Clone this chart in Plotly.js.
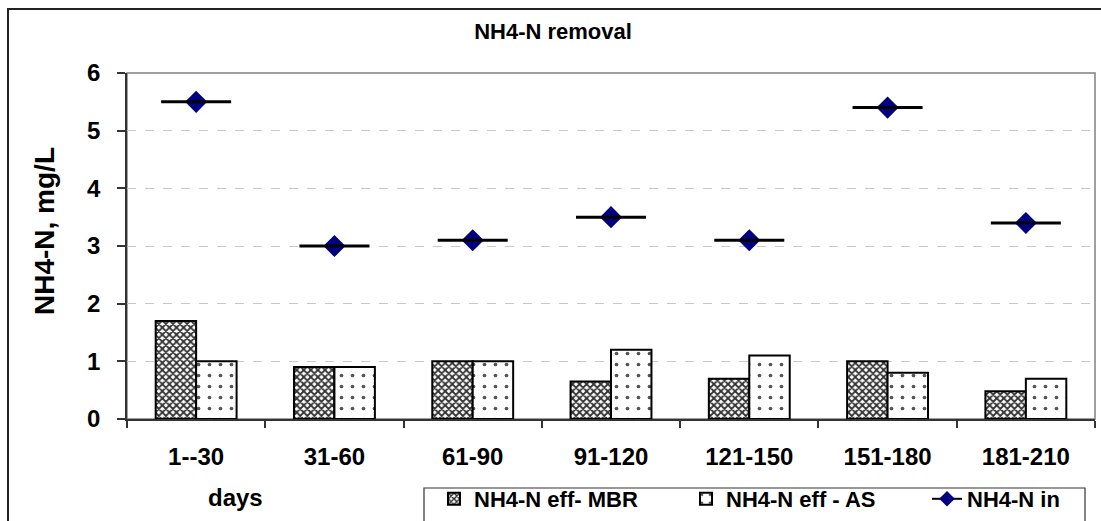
<!DOCTYPE html>
<html>
<head>
<meta charset="utf-8">
<script src="https://cdn.plot.ly/plotly-3.0.1.min.js"></script>
<style>html,body{margin:0;padding:0;background:#fff;}#chart{width:1101px;height:521px;}</style>
</head>
<body>
<div id="chart"></div>
<script>
const categories = ["1--30", "31-60", "61-90", "91-120", "121-150", "151-180", "181-210"];
const effMBR = [1.7, 0.9, 1.0, 0.65, 0.7, 1.0, 0.48];
const effAS = [1.0, 0.9, 1.0, 1.2, 1.1, 0.8, 0.7];
const nh4In = [5.5, 3.0, 3.1, 3.5, 3.1, 5.4, 3.4];
const yTicks = [0, 1, 2, 3, 4, 5, 6];

const FONT = "Liberation Sans, Arial, sans-serif";

const L = 127, R = 1095, T = 73, B = 419, W = 1101, H = 521;
const px = v => (v - L) / (R - L);
const py = v => (B - v) / (B - T);

const traces = [
  {
    type: "bar", name: "NH4-N eff- MBR", x: categories, y: effMBR, legend: "legend",
    marker: {color: "white", line: {color: "black", width: 2},
      pattern: {shape: "x", fgcolor: "#333333", bgcolor: "white", size: 5, solidity: 0.6}},
    hoverinfo: "y"
  },
  {
    type: "bar", name: "NH4-N eff - AS", x: categories, y: effAS, legend: "legend2",
    marker: {color: "white", line: {color: "black", width: 2},
      pattern: {shape: ".", fgcolor: "#555555", bgcolor: "white", size: 11, solidity: 0.09}},
    hoverinfo: "y"
  },
  {
    type: "scatter", mode: "markers", x: categories, y: nh4In, showlegend: false,
    marker: {symbol: "diamond", size: 17, color: "#000080", line: {width: 0}},
    cliponaxis: false
  },
  {
    type: "scatter", mode: "markers", x: categories, y: nh4In, showlegend: false,
    marker: {symbol: "line-ew", size: 50, color: "black", line: {color: "black", width: 3}},
    cliponaxis: false, hoverinfo: "skip"
  },
  {
    type: "scatter", mode: "lines+markers", name: "NH4-N in", x: [null], y: [null], legend: "legend3",
    line: {color: "black", width: 2},
    marker: {symbol: "diamond", size: 12, color: "#000080"}
  }
];

const legFont = {family: FONT, size: 22, color: "black", weight: "bold"};
const legBase = {orientation: "h", xanchor: "left", yanchor: "middle", y: py(499),
  bgcolor: "rgba(0,0,0,0)", borderwidth: 0, font: legFont, itemclick: false, itemdoubleclick: false};

const layout = {
  width: W, height: H,
  margin: {l: L, r: W - R, t: T, b: H - B, pad: 0, autoexpand: false},
  paper_bgcolor: "white", plot_bgcolor: "white",
  font: {family: FONT, size: 16, color: "black", weight: "bold"},
  title: {text: "<b>NH4-N removal</b>", x: 553 / W, xref: "container", xanchor: "center",
    y: 1 - 31 / H, yref: "container", yanchor: "middle",
    font: {family: FONT, size: 22, color: "black"}},
  barmode: "group", bargap: 0.415, bargroupgap: 0,
  showlegend: true,
  legend: Object.assign({}, legBase, {x: px(434)}),
  legend2: Object.assign({}, legBase, {x: px(686)}),
  legend3: Object.assign({}, legBase, {x: px(927)}),
  xaxis: {type: "category", range: [-0.5, categories.length - 0.5], autorange: false,
    showgrid: false, showline: true, linecolor: "#333", linewidth: 1.5,
    ticks: "outside", ticklen: 7, tickcolor: "#333", tickwidth: 1.5, tickson: "boundaries",
    ticklabelstandoff: 15,
    tickfont: {family: FONT, size: 24, color: "black", weight: "bold"}, fixedrange: true},
  yaxis: {range: [0, 6], autorange: false, tickvals: yTicks, ticktext: yTicks.map(String),
    showgrid: true, gridcolor: "#c8c8c8", griddash: "dash", gridwidth: 1,
    zeroline: false, showline: true, linecolor: "#333", linewidth: 1.5,
    ticks: "outside", ticklen: 8, tickcolor: "#333", tickwidth: 1.5, ticklabelstandoff: 12,
    tickfont: {family: FONT, size: 24, color: "black", weight: "bold"}, fixedrange: true},
  shapes: [
    {type: "rect", xref: "paper", yref: "paper", x0: 0, x1: 1, y0: 0, y1: 1,
      line: {color: "#808080", width: 1.5}, layer: "below"},
    {type: "rect", xref: "paper", yref: "paper", x0: px(8), x1: px(1115), y0: py(535), y1: py(9),
      line: {color: "#222", width: 2}, layer: "below"},
    {type: "rect", xref: "paper", yref: "paper", x0: px(424), x1: px(1085), y0: py(540), y1: py(488),
      line: {color: "#333", width: 1.2}, fillcolor: "white", layer: "below"}
  ],
  annotations: [
    {text: "<b>NH4-N, mg/L</b>", xref: "paper", yref: "paper", x: px(44), y: py(231),
      xanchor: "center", yanchor: "middle", textangle: -90, showarrow: false,
      font: {family: FONT, size: 28, color: "black"}},
    {text: "<b>days</b>", xref: "paper", yref: "paper", x: px(235), y: py(497),
      xanchor: "center", yanchor: "middle", showarrow: false,
      font: {family: FONT, size: 24, color: "black"}}
  ]
};

Plotly.newPlot("chart", traces, layout, {displayModeBar: false});
</script>
</body>
</html>
